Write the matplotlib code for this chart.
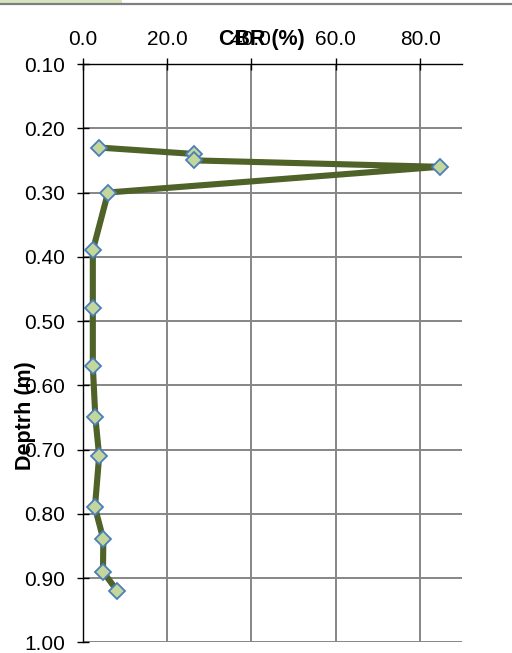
import matplotlib
matplotlib.use("Agg")
import matplotlib.pyplot as plt
from matplotlib.patches import Rectangle
from matplotlib.lines import Line2D

# CBR test results by depth
cbr = [3.8, 26.4, 26.5, 84.6, 6.0, 2.4, 2.4, 2.4, 3.0, 3.9, 2.9, 4.9, 4.8, 8.2]
depth = [0.23, 0.24, 0.25, 0.26, 0.30, 0.39, 0.48, 0.57, 0.65, 0.71, 0.79, 0.84, 0.89, 0.92]
x_ticks = [0, 20, 40, 60, 80]
y_ticks = [0.10, 0.20, 0.30, 0.40, 0.50, 0.60, 0.70, 0.80, 0.90, 1.00]

plt.rcParams['font.family'] = ['Liberation Sans', 'DejaVu Sans']

W, H = 512, 653
fig = plt.figure(figsize=(W / 100, H / 100), dpi=100)

# thin header band across the top of the sheet
fig.add_artist(Rectangle((0, 1 - 3.5 / H), 122 / W, 3.5 / H, transform=fig.transFigure,
                         facecolor='#d7e4bd', edgecolor='none'))
fig.add_artist(Line2D([0, 1], [1 - 3.5 / H, 1 - 3.5 / H], transform=fig.transFigure,
                      color='#7f7f7f', linewidth=1.6))

left, right, top, bottom = 82.7, 462.3, 64, 642.3
ax = fig.add_axes([left / W, 1 - bottom / H, (right - left) / W, (bottom - top) / H])

ax.plot(cbr, depth, color='#4f6228', linewidth=4.4, marker='D', markersize=8.2,
        markerfacecolor='#c3d69b', markeredgecolor='#4a7ebb', markeredgewidth=1.3,
        zorder=3)

ax.set_xlim(0, 90)
ax.set_ylim(1.0, 0.10)
ax.set_xticks(x_ticks)
ax.set_xticklabels([f"{v:.1f}" for v in x_ticks])
ax.set_yticks(y_ticks)
ax.set_yticklabels([f"{v:.2f}" for v in y_ticks])

ax.xaxis.tick_top()
ax.grid(True, color='#868686', linewidth=1.4, zorder=0)
ax.set_axisbelow(True)
for s in ['right', 'bottom']:
    ax.spines[s].set_visible(False)
for s in ['top', 'left']:
    ax.spines[s].set_color('#000000')
    ax.spines[s].set_linewidth(1.0)
    ax.spines[s].set_zorder(2.5)
ax.tick_params(axis='both', direction='inout', length=9, width=1.0, color='#000000',
               labelsize=15, labelcolor='#000000')
ax.tick_params(axis='x', pad=6)
ax.tick_params(axis='y', pad=8)

fig.text(262 / W, 1 - 40 / H, "CBR (%)", ha='center', va='center',
         fontsize=15.5, fontweight='bold')
fig.text(26 / W, 1 - 416 / H, "Deptrh (m)", ha='center', va='center',
         rotation=90, fontsize=15.5, fontweight='bold')

fig.savefig("out.png", dpi=100)
